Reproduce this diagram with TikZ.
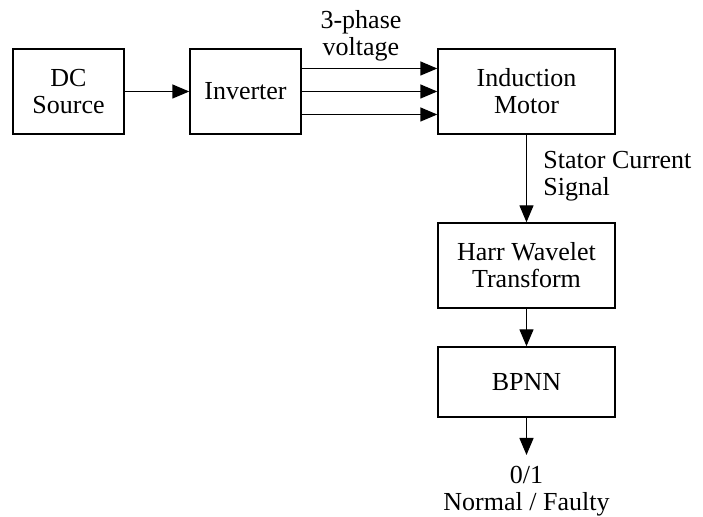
\documentclass[tikz,border=0pt]{standalone}
\usepackage{fontspec}
\setmainfont{Liberation Serif}
\usepackage{tikz}
\usetikzlibrary{positioning,calc,arrows.meta}

\begin{document}
\begin{tikzpicture}[
    x=0.5pt, y=-0.5pt,
    font=\fontsize{13}{13.5}\selectfont,
    blk/.style={draw, rectangle, line width=0.7pt, align=center, inner sep=0pt},
    arr/.style={line width=0.7pt, -{Triangle[length=8.5pt,width=7pt]}},
    lbl/.style={inner sep=0pt}
]
    \useasboundingbox (0,0) rectangle (703,517);

    \node[blk, minimum width=55.5pt, minimum height=42.5pt] (dc) at (68.5, 91.5) {DC\\Source};
    \node[blk, minimum width=55.5pt, minimum height=42.5pt] (inv) at (245.5, 91.5) {Inverter};
    \node[blk, minimum width=88.5pt, minimum height=42.5pt] (motor) at (526.5, 91.5) {Induction\\Motor};
    \node[blk, minimum width=88.5pt, minimum height=42.5pt] (harr) at (526.5, 265.5) {Harr Wavelet\\Transform};
    \node[blk, minimum width=88.5pt, minimum height=35pt] (bpnn) at (526.5, 382) {BPNN};

    \node[lbl, align=center] (phase) at (361, 36) {3-phase\\voltage};
    \node[lbl, align=left, anchor=west] (stator) at (543, 176) {Stator Current\\Signal};
    \node[lbl, align=center, anchor=north] (out) at (526.5, 466) {0/1\\Normal / Faulty};
    \coordinate (outend) at (526.5, 455);

    \draw[arr] (dc) -- (inv);
    \foreach \dy in {-11.5, 0, 11.5}
        \draw[arr] ([yshift=\dy pt]inv.east) -- ([yshift=\dy pt]motor.west);
    \draw[arr] (motor) -- (harr);
    \draw[arr] (harr) -- (bpnn);
    \draw[arr] (bpnn) -- (outend);
\end{tikzpicture}
\end{document}
